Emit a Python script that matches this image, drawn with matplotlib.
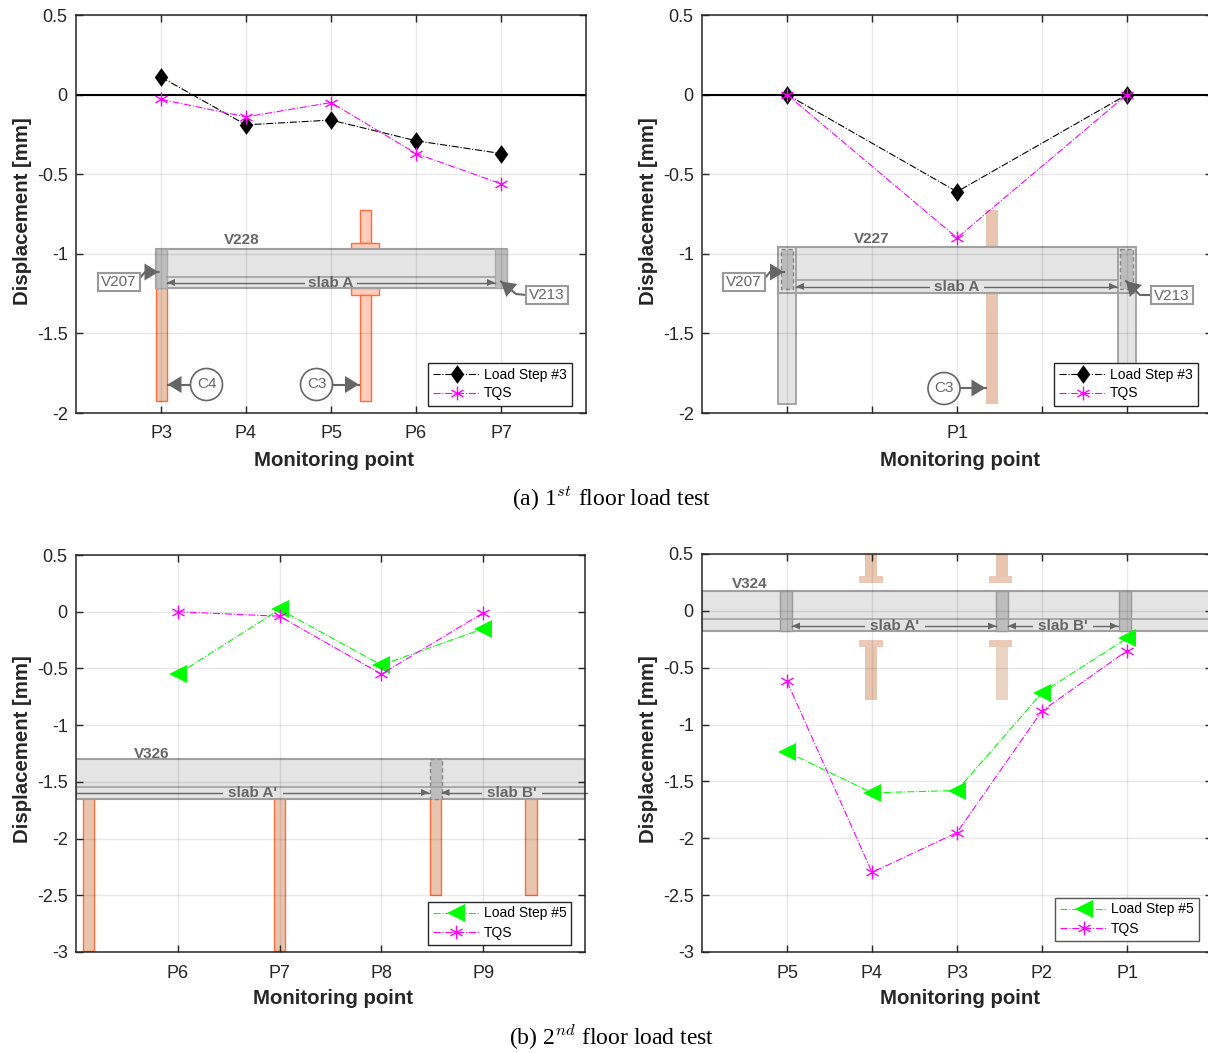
import matplotlib
matplotlib.use("Agg")
import matplotlib.pyplot as plt
from matplotlib.patches import Rectangle, Polygon, Circle
from matplotlib.lines import Line2D
from matplotlib.path import Path
from matplotlib.transforms import Affine2D

# ---- data ----
top_left_labels = ["P3", "P4", "P5", "P6", "P7"]
top_left_load = [0.11, -0.19, -0.16, -0.29, -0.37]
top_left_tqs = [-0.03, -0.14, -0.05, -0.37, -0.56]

top_right_labels = ["", "", "P1", "", ""]
top_right_x = [1, 3, 5]
top_right_load = [0.0, -0.61, 0.0]
top_right_tqs = [0.0, -0.90, 0.0]

bottom_left_labels = ["P6", "P7", "P8", "P9"]
bottom_left_load = [-0.55, 0.02, -0.47, -0.15]
bottom_left_tqs = [0.0, -0.04, -0.55, -0.01]

bottom_right_labels = ["P5", "P4", "P3", "P2", "P1"]
bottom_right_load = [-1.24, -1.60, -1.58, -0.72, -0.24]
bottom_right_tqs = [-0.62, -2.30, -1.95, -0.88, -0.35]

yticks_top = [0.5, 0, -0.5, -1, -1.5, -2]
yticks_bottom = [0.5, 0, -0.5, -1, -1.5, -2, -2.5, -3]
ytick_top_labels = ["0.5", "0", "-0.5", "-1", "-1.5", "-2"]
ytick_bottom_labels = ["0.5", "0", "-0.5", "-1", "-1.5", "-2", "-2.5", "-3"]

# ---- style ----
plt.rcParams["font.family"] = ["Liberation Sans", "DejaVu Sans"]
plt.rcParams["mathtext.fontset"] = "cm"
plt.rcParams["axes.unicode_minus"] = False

W, H = 1208, 1053
fig = plt.figure(figsize=(W / 100, H / 100), dpi=100)
PIX = Affine2D().scale(1, -1).translate(0, H)

DARK = "#262626"
GRAY = "#666666"
BEAM = "#E4E4E4"
BEAM_E = "#A0A0A0"
COL = "#BDBDBD"
TAN = "#E8C5AF"
PEACH = "#FFCDB9"
ORANGE = "#FF6C3E"
STAR = Path([(0, -1), (0, 1), (-.87, -.5), (.87, .5), (-.87, .5), (.87, -.5)],
            [Path.MOVETO, Path.LINETO] * 3)
DIAMOND = [(-.72, 0), (0, 1), (.72, 0), (0, -1)]


def make_ax(left, right, top, bottom, ylim, yt, ytl, xlim, xt, xtl):
    ax = fig.add_axes([left / W, 1 - bottom / H, (right - left) / W, (bottom - top) / H])
    ax.set_xlim(*xlim)
    ax.set_ylim(*ylim)
    ax.set_xticks(xt, xtl)
    ax.set_yticks(yt, ytl)
    ax.tick_params(direction="in", length=5, width=1, top=True, right=True, labelsize=13,
                   colors=DARK, pad=6)
    ax.tick_params(axis="x", pad=9)
    ax.grid(True, color="black", alpha=0.09, lw=1.0)
    ax.set_axisbelow(False)
    for s in ax.spines.values():
        s.set_color(DARK)
        s.set_linewidth(1.1)
        s.set_zorder(6)
    ax.set_xlabel("Monitoring point", fontsize=14.7, fontweight="bold", color=DARK)
    ax.set_ylabel("Displacement [mm]", fontsize=14.7, fontweight="bold", color=DARK)
    return ax


def rect(ax, x0, y0, x1, y1, fc, ec="none", lw=1.0, z=1.0, ls="-", alpha=None):
    ax.add_patch(Rectangle((x0, y0), x1 - x0, y1 - y0, transform=PIX, fc=fc, ec=ec, lw=lw,
                           ls=ls, zorder=z, alpha=alpha))


def hline(ax, x0, x1, y, color=BEAM_E, lw=1.2, z=1.4):
    ax.add_line(Line2D([x0, x1], [y, y], transform=PIX, color=color, lw=lw, zorder=z, clip_on=False))


def head(ax, tx, ty, bx, by, width, z=2.2):
    dx, dy = tx - bx, ty - by
    n = (dx * dx + dy * dy) ** .5
    px, py = -dy / n * width / 2, dx / n * width / 2
    ax.add_patch(Polygon([(tx, ty), (bx + px, by + py), (bx - px, by - py)], closed=True,
                         transform=PIX, fc=GRAY, ec="none", zorder=z, clip_on=False))


def arrow(ax, pts, hl=14, hw=17):
    xs, ys = zip(*pts)
    ax.add_line(Line2D(xs, ys, transform=PIX, color=GRAY, lw=1.5, zorder=2.2, clip_on=False))
    tx, ty = pts[-1]
    px, py = pts[-2]
    n = ((tx - px) ** 2 + (ty - py) ** 2) ** .5
    head(ax, tx, ty, tx - (tx - px) / n * hl, ty - (ty - py) / n * hl, hw)


def dim(ax, x0, x1, y, left=True, right=True):
    ax.add_line(Line2D([x0, x1], [y, y], transform=PIX, color=GRAY, lw=1.0, zorder=2.0, clip_on=False))
    if left:
        head(ax, x0, y, x0 + 8, y, 7)
    if right:
        head(ax, x1, y, x1 - 8, y, 7)


def txt(ax, x, y, s, gap=0):
    if gap:
        rect(ax, x - gap, y - 2.5, x + gap, y + 2.5, BEAM, z=2.1)
    ax.text(x, y, s, transform=PIX, color=GRAY, fontsize=11, fontweight="bold", ha="center",
            va="center", zorder=2.3)


def tagbox(ax, x0, y0, x1, y1, s):
    rect(ax, x0, y0, x1, y1, "white", "#999999", 1.5, z=2.25)
    ax.text((x0 + x1) / 2, (y0 + y1) / 2 + .5, s, transform=PIX, color=GRAY, fontsize=11, ha="center",
            va="center", zorder=2.3)


def badge(ax, cx, cy, s, r=16):
    ax.add_patch(Circle((cx, cy), r, transform=PIX, fc="white", ec=GRAY, lw=1.2, zorder=2.25))
    ax.text(cx, cy, s, transform=PIX, color=GRAY, fontsize=11, ha="center", va="center", zorder=2.3)


def series(ax, x, load, tqs, load_name, kind):
    if kind == "d":
        ax.plot(x, load, color="black", ls="-.", lw=0.8, marker=DIAMOND, ms=13.5, mfc="black",
                mec="black", mew=0, zorder=3, label=load_name, clip_on=False)
    else:
        ax.plot(x, load, color="#00FF00", ls="-.", lw=0.8, marker="<", ms=13, mfc="#00FF00",
                mec="#00FF00", mew=0, zorder=3, label=load_name, clip_on=False)
    ax.plot(x, tqs, color="#FF00FF", ls="-.", lw=0.8, marker=STAR, ms=10, mfc="none",
            mec="#FF00FF", mew=1.0, zorder=3.1, label="TQS", clip_on=False)


def legend(ax, x, y, ec=DARK):
    leg = ax.legend(loc="upper left", bbox_to_anchor=(x, y), bbox_transform=PIX, borderaxespad=0,
                    fontsize=10, fancybox=False, framealpha=1, edgecolor=ec, handlelength=3.4,
                    handletextpad=0.28, borderpad=0.36, labelspacing=0.36)
    leg.get_frame().set_linewidth(1.0)
    leg.set_zorder(5)


# ---- (a) top left ----
a1 = make_ax(76, 586, 15, 413, (-2, 0.5), yticks_top, ytick_top_labels, (0, 6), [1, 2, 3, 4, 5], top_left_labels)
a1.axhline(0, color="black", lw=1.5, zorder=2.6)
rect(a1, 359.5, 210, 371, 243, PEACH, ORANGE)
rect(a1, 351, 242.5, 378.5, 249, PEACH, ORANGE)
rect(a1, 351, 288, 378.5, 295, PEACH, ORANGE)
rect(a1, 359.5, 295, 371, 400.5, PEACH, ORANGE)
rect(a1, 155.5, 288, 167, 400.5, TAN, ORANGE)
rect(a1, 155.5, 249, 506.5, 288, BEAM, BEAM_E, 1.5, z=1.2)
hline(a1, 167, 495, 276.5)
rect(a1, 155.5, 249, 167, 288, COL, "#AAAAAA", 1, z=1.3)
rect(a1, 495, 249, 506.5, 288, COL, "#AAAAAA", 1, z=1.3)
dim(a1, 167, 495, 282.5)
txt(a1, 331, 283, "slab A", gap=26)
txt(a1, 242, 240.5, "V228")
arrow(a1, [(140, 278), (145, 272), (158.5, 272)])
tagbox(a1, 98, 273, 140, 291, "V207")
arrow(a1, [(526, 295), (516, 294), (501, 281.5)])
tagbox(a1, 526, 286, 568, 303.5, "V213")
arrow(a1, [(191, 384.5), (167.5, 384.5)])
badge(a1, 206.5, 384.5, "C4")
arrow(a1, [(332, 384.5), (359, 384.5)])
badge(a1, 316.5, 384.5, "C3")
series(a1, [1, 2, 3, 4, 5], top_left_load, top_left_tqs, "Load Step #3", "d")
legend(a1, 428, 362.5)

# ---- (a) top right ----
a2 = make_ax(702, 1212, 15, 413, (-2, 0.5), yticks_top, ytick_top_labels, (0, 6), [1, 2, 3, 4, 5], top_right_labels)
a2.axhline(0, color="black", lw=1.5, zorder=2.6)
rect(a2, 985.5, 210, 997.5, 404, TAN)
rect(a2, 778, 247, 795.5, 404, BEAM, BEAM_E, 1.3, z=1.1)
rect(a2, 1117.5, 247, 1135.5, 404, BEAM, BEAM_E, 1.3, z=1.1)
rect(a2, 778, 247, 1135.5, 292.5, BEAM, BEAM_E, 1.5, z=1.2)
hline(a2, 795.5, 1117.5, 280)
a2.add_line(Line2D([795.5, 795.5], [247, 292.5], transform=PIX, color=BEAM_E, lw=1.3, zorder=1.4))
a2.add_line(Line2D([1117.5, 1117.5], [247, 292.5], transform=PIX, color=BEAM_E, lw=1.3, zorder=1.4))
rect(a2, 780.5, 249, 793, 288.5, COL, "#888888", 1, z=1.3, ls=(0, (3, 2)))
rect(a2, 1120, 249, 1132.5, 288.5, COL, "#888888", 1, z=1.3, ls=(0, (3, 2)))
dim(a2, 796, 1117, 286.5)
txt(a2, 956.5, 287, "slab A", gap=27)
txt(a2, 871.5, 239, "V227")
arrow(a2, [(765, 278), (770, 272), (784, 272)])
tagbox(a2, 723, 273, 765, 291, "V207")
arrow(a2, [(1151, 295), (1140, 295), (1126, 281)])
tagbox(a2, 1151, 286, 1193, 304, "V213")
arrow(a2, [(960, 388), (985.5, 388)])
badge(a2, 944, 388.5, "C3")
series(a2, top_right_x, top_right_load, top_right_tqs, "Load Step #3", "d")
legend(a2, 1054, 362.5)

# ---- (b) bottom left ----
a3 = make_ax(76, 585, 555, 952, (-3, 0.5), yticks_bottom, ytick_bottom_labels, (0, 5), [1, 2, 3, 4], bottom_left_labels)
for x0, x1, y1 in [(82.5, 94, 951), (273.5, 285, 951), (429.5, 441, 895), (525, 536.5, 895)]:
    rect(a3, x0, 798, x1, y1, TAN, ORANGE)
rect(a3, 76, 759, 585, 798.5, BEAM, BEAM_E, 1.5, z=1.2)
hline(a3, 76, 585, 786.5)
rect(a3, 429.5, 759, 441.5, 798.5, COL, "#888888", 1, z=1.3, ls=(0, (3, 2)))
dim(a3, 76, 429, 792.5, left=False)
dim(a3, 441.5, 587, 792.5, right=False)
txt(a3, 253, 793, "slab A'", gap=30)
txt(a3, 512, 793, "slab B'", gap=30)
txt(a3, 152, 753.5, "V326")
series(a3, [1, 2, 3, 4], bottom_left_load, bottom_left_tqs, "Load Step #5", "t")
legend(a3, 427.5, 901.5)

# ---- (b) bottom right ----
a4 = make_ax(702, 1212, 554, 952, (-3, 0.5), yticks_bottom, ytick_bottom_labels, (0, 6), [1, 2, 3, 4, 5], bottom_right_labels)
for x0, x1, c in [(864.5, 876.5, TAN), (995.5, 1007.5, "#EBD3C3")]:
    rect(a4, x0, 554, x1, 577, TAN)
    rect(a4, x0, 647, x1, 700, c)
for x0, x1 in [(858.5, 882.5), (988.5, 1011.5)]:
    rect(a4, x0, 576, x1, 583, TAN, z=1.02, alpha=0.9)
    rect(a4, x0, 640, x1, 647, TAN, z=1.02, alpha=0.9)
rect(a4, 702, 591, 1212, 630.5, BEAM, BEAM_E, 1.5, z=1.2)
hline(a4, 702, 1212, 619)
for x0, x1 in [(780, 791.5), (996, 1007.5), (1118.5, 1130.5)]:
    rect(a4, x0, 591, x1, 630.5, COL, "#999999", 1, z=1.3)
dim(a4, 792, 996, 626)
dim(a4, 1008, 1118, 626)
txt(a4, 894.5, 626.5, "slab A'", gap=30)
txt(a4, 1063, 626.5, "slab B'", gap=30)
txt(a4, 750, 584.5, "V324")
series(a4, [1, 2, 3, 4, 5], bottom_right_load, bottom_right_tqs, "Load Step #5", "t")
legend(a4, 1055, 897.5, ec="#555555")

# ---- label positions ----
for ax, left, right, top, bottom, xc, xy, yx, yc in [
    (a1, 76, 586, 15, 413, 334, 460, 23, 211),
    (a2, 702, 1212, 15, 413, 959.5, 460, 648, 211),
    (a3, 76, 585, 555, 952, 333, 998, 23, 749),
    (a4, 702, 1212, 554, 952, 959.5, 998, 648, 749),
]:
    ax.xaxis.set_label_coords((xc - left) / (right - left), (bottom - xy) / (bottom - top))
    ax.xaxis.label.set_va("center")
    ax.yaxis.set_label_coords((yx - left) / (right - left), (bottom - yc) / (bottom - top))
    ax.yaxis.label.set_va("center")

# ---- captions ----
serif = ["Liberation Serif", "DejaVu Serif"]
fig.text(612 / W, 1 - 498 / H, r"(a) 1$^{st}$ floor load test", family=serif, fontsize=17,
         ha="center", va="center", color="black")
fig.text(612 / W, 1 - 1037 / H, r"(b) 2$^{nd}$ floor load test", family=serif, fontsize=17,
         ha="center", va="center", color="black")

fig.savefig("out.png", dpi=100)
